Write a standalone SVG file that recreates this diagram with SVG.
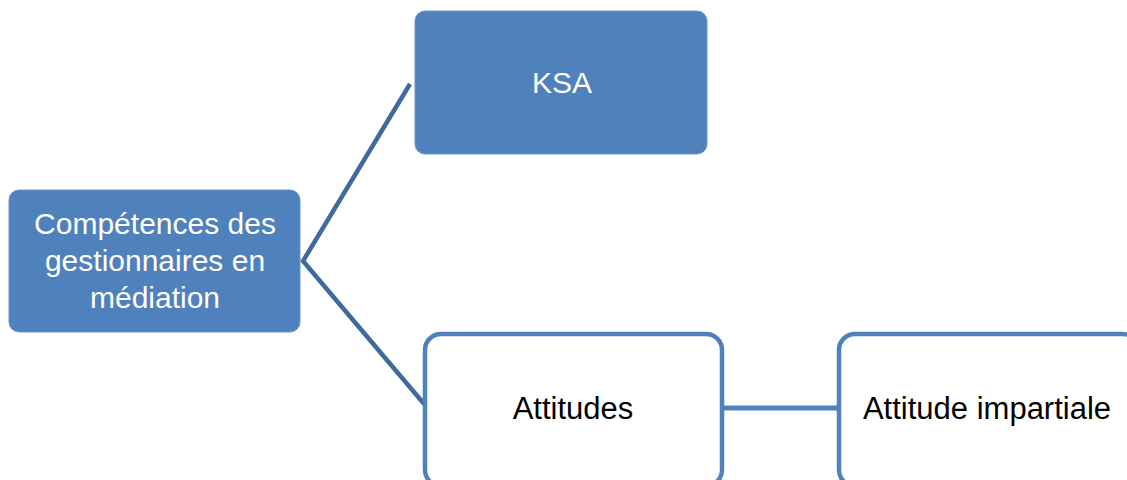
<svg xmlns="http://www.w3.org/2000/svg" width="1127" height="480" viewBox="0 0 1127 480">
<style>
.filled{fill:#4f81bd;stroke:#6a95c8;stroke-width:1}
.outline{fill:#ffffff;stroke:#4f81bd;stroke-width:4.5}
.conn{fill:none;stroke:#3e6a9e;stroke-width:4.5}
.wt{font-family:"Liberation Sans",Arial,sans-serif;font-size:30px;fill:#ffffff;text-anchor:middle}
.bt{font-family:"Liberation Sans",Arial,sans-serif;font-size:31px;fill:#000000;text-anchor:middle}
</style>
<rect width="1127" height="480" fill="#ffffff"/>
<g id="connectors">
<polyline class="conn" points="410,84 303,261 425,405"/>
<line x1="722" y1="408" x2="838" y2="408" stroke="#4f81bd" stroke-width="5"/>
</g>
<g id="node-competences">
<rect class="filled" x="9" y="190" width="291" height="142" rx="10"/>
<text class="wt" x="155" y="234">Compétences des</text>
<text class="wt" x="155" y="271">gestionnaires en</text>
<text class="wt" x="155" y="308">médiation</text>
</g>
<g id="node-ksa">
<rect class="filled" x="415" y="11" width="292" height="143" rx="10"/>
<text class="wt" x="562" y="93">KSA</text>
</g>
<g id="node-attitudes">
<rect class="outline" x="425" y="334" width="297" height="152" rx="16"/>
<text class="bt" x="573" y="419">Attitudes</text>
</g>
<g id="node-impartiale">
<rect class="outline" x="839" y="334" width="300" height="152" rx="16"/>
<text class="bt" x="987" y="419">Attitude impartiale</text>
</g>
</svg>
